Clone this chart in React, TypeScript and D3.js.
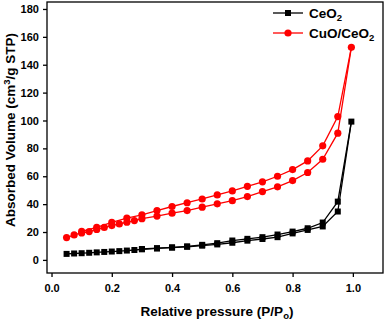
import React, { useRef, useEffect } from "react";
import * as d3 from "d3";

// CeO2 isotherm (adsorption, then desorption)
const ceAdsX = [0.05, 0.075, 0.1, 0.125, 0.15, 0.175, 0.2, 0.225, 0.25, 0.275, 0.3, 0.35, 0.4, 0.45, 0.5, 0.55, 0.6, 0.65, 0.7, 0.75, 0.8, 0.85, 0.9, 0.95, 0.995];
const ceAdsY = [4.3, 4.6, 4.8, 5.1, 5.4, 5.7, 6.0, 6.3, 6.7, 7.1, 7.6, 8.2, 8.8, 9.4, 10.2, 11.1, 12.3, 13.8, 15.0, 16.3, 19.0, 21.5, 24.0, 34.7, 99.2];
const ceDesX = [0.95, 0.9, 0.85, 0.8, 0.75, 0.7, 0.65, 0.6, 0.55, 0.5, 0.45, 0.4, 0.35, 0.3];
const ceDesY = [41.8, 26.8, 22.7, 20.3, 18.2, 16.3, 15.1, 13.9, 12.0, 10.8, 9.7, 9.0, 8.4, 7.8];

// CuO/CeO2 isotherm
const cuAdsX = [0.05, 0.075, 0.1, 0.125, 0.15, 0.175, 0.2, 0.225, 0.25, 0.275, 0.3, 0.35, 0.4, 0.45, 0.5, 0.55, 0.6, 0.65, 0.7, 0.75, 0.8, 0.85, 0.9, 0.95, 0.995];
const cuAdsY = [16.0, 17.9, 19.3, 20.3, 21.8, 23.3, 24.6, 25.8, 27.0, 28.2, 29.6, 31.4, 33.5, 35.4, 37.8, 40.2, 42.5, 45.4, 49.0, 52.4, 56.9, 62.7, 72.2, 90.9, 152.5];
const cuDesX = [0.95, 0.9, 0.85, 0.8, 0.75, 0.7, 0.65, 0.6, 0.55, 0.5, 0.45, 0.4, 0.35, 0.3, 0.25, 0.2, 0.15, 0.1];
const cuDesY = [102.8, 81.8, 71.0, 64.8, 60.0, 56.0, 52.8, 49.5, 46.6, 43.7, 41.0, 38.3, 35.4, 32.3, 29.9, 26.9, 23.4, 20.4];

const xTicks = [0, 0.2, 0.4, 0.6, 0.8, 1.0];
const yTicks = [0, 20, 40, 60, 80, 100, 120, 140, 160, 180];

const FONT = "'Liberation Sans', Arial, sans-serif";

export default function App() {
  const ref = useRef<SVGSVGElement>(null);

  useEffect(() => {
    const svg = d3.select(ref.current);
    svg.selectAll("*").remove();

    const left = 47, right = 383, top = 2, bottom = 273;

    const x = d3.scaleLinear().domain([-0.015, 1.1]).range([left, right]);
    const y = d3.scaleLinear().domain([-9.4, 185]).range([bottom, top]);

    const line = d3
      .line<[number, number]>()
      .x((d) => x(d[0]))
      .y((d) => y(d[1]));

    const zip = (xs: number[], ys: number[]) =>
      xs.map((v, i) => [v, ys[i]] as [number, number]);

    // axes, ticks pointing outward
    const xa = svg
      .append("g")
      .attr("transform", `translate(0,${bottom})`)
      .call(d3.axisBottom(x).tickValues(xTicks).tickFormat(d3.format(".1f")).tickSize(4));
    const ya = svg
      .append("g")
      .attr("transform", `translate(${left},0)`)
      .call(d3.axisLeft(y).tickValues(yTicks).tickSize(4));
    [xa, ya].forEach((a) => {
      a.select(".domain").remove();
      a.selectAll("line").attr("stroke", "#000").attr("stroke-width", 1.3);
      a.selectAll("text")
        .attr("fill", "#000")
        .style("font-family", FONT)
        .style("font-weight", "bold")
        .style("font-size", "11px");
    });
    xa.selectAll("text").attr("dy", "1.05em");
    ya.selectAll("text").attr("dx", "-0.1em");

    // frame
    svg
      .append("rect")
      .attr("x", left)
      .attr("y", top)
      .attr("width", right - left)
      .attr("height", bottom - top)
      .attr("fill", "none")
      .attr("stroke", "#000")
      .attr("stroke-width", 1.3);

    const series = [
      { color: "#000", shape: "square", parts: [zip(ceAdsX, ceAdsY), zip(ceDesX, ceDesY)] },
      { color: "#ff0000", shape: "circle", parts: [zip(cuAdsX, cuAdsY), zip(cuDesX, cuDesY)] },
    ];

    series.forEach((s) => {
      const g = svg.append("g");
      const adsEnd = s.parts[0][s.parts[0].length - 1];
      // desorption branch starts from the top point
      const des = [adsEnd, ...s.parts[1]];
      [s.parts[0], des].forEach((pts) => {
        g.append("path")
          .attr("d", line(pts))
          .attr("fill", "none")
          .attr("stroke", s.color)
          .attr("stroke-width", 1.3);
      });
      const all = [...s.parts[0], ...s.parts[1]];
      if (s.shape === "square") {
        g.selectAll("rect")
          .data(all)
          .join("rect")
          .attr("x", (d) => x(d[0]) - 3)
          .attr("y", (d) => y(d[1]) - 3)
          .attr("width", 6)
          .attr("height", 6)
          .attr("fill", s.color);
      } else {
        g.selectAll("circle")
          .data(all)
          .join("circle")
          .attr("cx", (d) => x(d[0]))
          .attr("cy", (d) => y(d[1]))
          .attr("r", 3.6)
          .attr("fill", s.color);
      }
    });

    // legend
    const legend = [
      { label: "CeO", sub: "2", color: "#000", shape: "square", ly: 13 },
      { label: "CuO/CeO", sub: "2", color: "#ff0000", shape: "circle", ly: 33 },
    ];
    legend.forEach((l) => {
      svg.append("line")
        .attr("x1", 273).attr("x2", 303)
        .attr("y1", l.ly).attr("y2", l.ly)
        .attr("stroke", l.color).attr("stroke-width", 1.3);
      if (l.shape === "square") {
        svg.append("rect").attr("x", 285).attr("y", l.ly - 3).attr("width", 6).attr("height", 6).attr("fill", l.color);
      } else {
        svg.append("circle").attr("cx", 288).attr("cy", l.ly).attr("r", 3.6).attr("fill", l.color);
      }
      const t = svg.append("text")
        .attr("x", 309)
        .attr("y", l.ly + 5)
        .style("font-family", FONT)
        .style("font-weight", "bold")
        .style("font-size", "13.5px");
      t.append("tspan").text(l.label);
      t.append("tspan").attr("dy", 3).style("font-size", "9.5px").text(l.sub);
    });

    // axis titles
    const xt = svg.append("text")
      .attr("x", 217)
      .attr("y", 316)
      .attr("text-anchor", "middle")
      .style("font-family", FONT)
      .style("font-weight", "bold")
      .style("font-size", "13.5px");
    xt.append("tspan").text("Relative pressure (P/P");
    xt.append("tspan").attr("dy", 3).style("font-size", "9.5px").text("o");
    xt.append("tspan").attr("dy", -3).text(")");

    const yt = svg.append("text")
      .attr("transform", `translate(15,130) rotate(-90)`)
      .attr("text-anchor", "middle")
      .style("font-family", FONT)
      .style("font-weight", "bold")
      .style("font-size", "13.5px");
    yt.append("tspan").text("Absorbed Volume (cm");
    yt.append("tspan").attr("dy", -5).style("font-size", "9.5px").text("3");
    yt.append("tspan").attr("dy", 5).text("/g STP)");
  }, []);

  return (
    <svg
      ref={ref}
      width={387}
      height={320}
      style={{ position: "absolute", left: 0, top: 0, background: "#fff" }}
    />
  );
}
